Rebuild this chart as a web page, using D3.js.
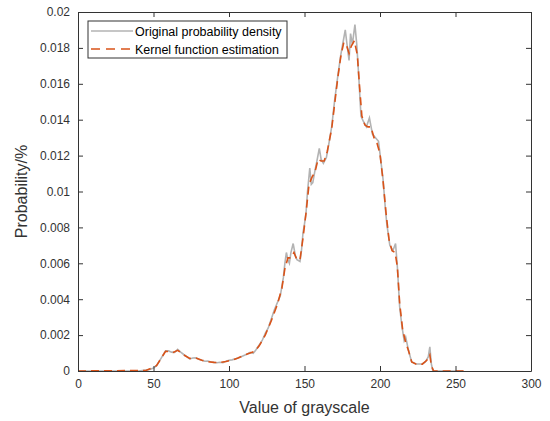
<!DOCTYPE html>
<html>
<head>
<meta charset="utf-8">
<script src="https://cdn.jsdelivr.net/npm/d3@7"></script>
<style>
  body { margin: 0; background: #fff; }
  text { font-family: "Liberation Sans", Arial, sans-serif; }
</style>
</head>
<body>
<svg id="chart" width="550" height="421"></svg>
<script>
// original histogram (grayscale value, probability)
var origX = [0, 40, 45, 48, 50, 52, 55, 58, 60, 62, 64, 66, 68, 70, 72, 74, 76, 78, 80, 82, 84, 86, 88, 90, 92, 94, 96, 98, 100, 102, 105, 108, 111, 114, 116, 118, 120, 122, 124, 126, 128, 130, 132, 134, 136, 137, 138, 139, 140, 141, 142.5, 144, 145, 147, 148, 149, 150, 151, 152, 153.5, 154.5, 155.5, 157, 158, 159.8, 161, 162.5, 164.5, 166, 168, 170, 172, 174, 175.5, 177, 178, 179.5, 180.5, 181.7, 183.4, 184.6, 186, 187.4, 189, 191, 193, 195, 197, 199, 200, 202, 203.5, 204.5, 206.5, 208.5, 210.3, 211.5, 213, 214.5, 216, 217, 218, 219, 221, 224, 228, 230, 232, 233, 234, 235, 255];
var origY = [0, 0, 0.00005, 0.0001, 0.00017, 0.0003, 0.0007, 0.00112, 0.00112, 0.00105, 0.00104, 0.0012, 0.00105, 0.00092, 0.0008, 0.00067, 0.00072, 0.00074, 0.00066, 0.0006, 0.00054, 0.00056, 0.0005, 0.00048, 0.00046, 0.00049, 0.00046, 0.00055, 0.0006, 0.00062, 0.0007, 0.0008, 0.0009, 0.00104, 0.00098, 0.0012, 0.00145, 0.0017, 0.0021, 0.0024, 0.0029, 0.0034, 0.0038, 0.0042, 0.0052, 0.006, 0.0066, 0.0062, 0.006, 0.0066, 0.0071, 0.0064, 0.0062, 0.0061, 0.0067, 0.0077, 0.0082, 0.0088, 0.01, 0.0113, 0.0104, 0.0105, 0.0112, 0.0116, 0.0124, 0.0118, 0.01157, 0.0119, 0.0126, 0.0136, 0.0151, 0.0164, 0.0176, 0.0183, 0.019, 0.0183, 0.0173, 0.0188, 0.0182, 0.0193, 0.0182, 0.0163, 0.0142, 0.0139, 0.0136, 0.0141, 0.0132, 0.013, 0.0128, 0.0121, 0.0107, 0.0091, 0.0082, 0.007, 0.0067, 0.0071, 0.0058, 0.0036, 0.0025, 0.0017, 0.0019, 0.0015, 0.0011, 0.0005, 0.00039, 0.00039, 0.0005, 0.0008, 0.00135, 0.0004, 0, 0];

// kernel estimate
var kdeX = [0, 45, 50, 52, 55, 58, 60, 63, 66, 68, 70, 74, 78, 82, 86, 90, 94, 98, 102, 106, 110, 114, 117, 120, 124, 128, 132, 135, 137, 139, 141, 143, 145, 147, 149, 151, 153, 155, 157, 159, 161, 163, 165, 168, 170, 172, 174, 176, 178, 179.5, 181, 183, 185, 186.5, 188, 190, 192, 194, 196, 198, 200, 202, 204, 206, 208, 210, 211.5, 213, 215, 217, 219, 221, 224, 228, 231, 233, 234, 235.5, 256];
var kdeY = [0, 0.00003, 0.0002, 0.0003, 0.0007, 0.0011, 0.00108, 0.00103, 0.00115, 0.00103, 0.0009, 0.0007, 0.00072, 0.0006, 0.00052, 0.00048, 0.00047, 0.00053, 0.0006, 0.00072, 0.00088, 0.001, 0.0011, 0.0014, 0.002, 0.0028, 0.0037, 0.0046, 0.0057, 0.0063, 0.0063, 0.0066, 0.0062, 0.0062, 0.0074, 0.0088, 0.0104, 0.0108, 0.0111, 0.0118, 0.0117, 0.0117, 0.0122, 0.0135, 0.0149, 0.0163, 0.0175, 0.0183, 0.0181, 0.0177, 0.0181, 0.0184, 0.0176, 0.0158, 0.0142, 0.0137, 0.0136, 0.0136, 0.013, 0.0127, 0.0121, 0.0106, 0.0088, 0.0073, 0.0067, 0.0066, 0.0058, 0.0038, 0.0023, 0.0016, 0.0011, 0.0005, 0.00038, 0.00038, 0.0006, 0.0009, 0.0003, 0, 0];

var xTicks = [0, 50, 100, 150, 200, 250, 300];
var yTicks = [0, 0.002, 0.004, 0.006, 0.008, 0.01, 0.012, 0.014, 0.016, 0.018, 0.02];
var seriesNames = ["Original probability density", "Kernel function estimation"];

var svg = d3.select("#chart");
var margin = {top: 12, right: 19, bottom: 50, left: 78},
    width = 550 - margin.left - margin.right,
    height = 421 - margin.top - margin.bottom;

var axisColor = "#333333",
    grayColor = "#b3b3b3",
    orange = "#D95319";

var g = svg.append("g")
  .attr("transform", "translate(" + margin.left + "," + margin.top + ")");

var x = d3.scaleLinear().domain([0, 300]).range([0, width]);
var y = d3.scaleLinear().domain([0, 0.02]).range([height, 0]);

var line = d3.line()
  .x(function(d) { return x(d[0]); })
  .y(function(d) { return y(d[1]); });

var origData = origX.map(function(v, i) { return [v, origY[i]]; });
var kdeData = kdeX.map(function(v, i) { return [v, kdeY[i]]; });

g.append("path")
  .attr("d", line(origData))
  .attr("fill", "none")
  .attr("stroke", grayColor)
  .attr("stroke-width", 1.6);

g.append("path")
  .attr("d", line(kdeData))
  .attr("fill", "none")
  .attr("stroke", orange)
  .attr("stroke-width", 1.6)
  .attr("stroke-dasharray", "8,5");

// axes, MATLAB style with inward ticks on all sides
function styleAxis(sel) {
  sel.selectAll("path").attr("stroke", axisColor);
  sel.selectAll("line").attr("stroke", axisColor);
  sel.selectAll("text").attr("fill", axisColor).attr("font-size", 12);
}

g.append("g")
  .attr("transform", "translate(0," + height + ")")
  .call(d3.axisBottom(x).tickValues(xTicks).tickSize(-5).tickSizeOuter(0).tickPadding(8))
  .call(styleAxis);

g.append("g")
  .call(d3.axisTop(x).tickValues(xTicks).tickSize(-5).tickSizeOuter(0).tickFormat(""))
  .call(styleAxis);

g.append("g")
  .call(d3.axisLeft(y).tickValues(yTicks).tickSize(-5).tickSizeOuter(0).tickPadding(8)
    .tickFormat(function(d) { return d === 0 ? "0" : d3.format("")(+d.toFixed(3)); }))
  .call(styleAxis);

g.append("g")
  .attr("transform", "translate(" + width + ",0)")
  .call(d3.axisRight(y).tickValues(yTicks).tickSize(-5).tickSizeOuter(0).tickFormat(""))
  .call(styleAxis);

// axis labels
svg.append("text")
  .attr("x", margin.left + width / 2)
  .attr("y", 413)
  .attr("text-anchor", "middle")
  .attr("font-size", 16)
  .attr("fill", axisColor)
  .text("Value of grayscale");

svg.append("text")
  .attr("transform", "translate(27," + (margin.top + height / 2) + ") rotate(-90)")
  .attr("text-anchor", "middle")
  .attr("font-size", 16)
  .attr("fill", axisColor)
  .text("Probability/%");

// legend
var legend = svg.append("g").attr("transform", "translate(88,21)");
legend.append("rect")
  .attr("width", 199).attr("height", 37)
  .attr("fill", "#fff")
  .attr("stroke", axisColor)
  .attr("stroke-width", 1);

var legendStyles = [
  {color: grayColor, dash: null},
  {color: orange, dash: "9,6"}
];

legendStyles.forEach(function(s, i) {
  var yy = 10 + i * 18;
  legend.append("line")
    .attr("x1", 3).attr("x2", 45)
    .attr("y1", yy).attr("y2", yy)
    .attr("stroke", s.color)
    .attr("stroke-width", 1.5)
    .attr("stroke-dasharray", s.dash);
  legend.append("text")
    .attr("x", 47).attr("y", yy + 4.5)
    .attr("font-size", 12.5)
    .attr("fill", "#000")
    .text(seriesNames[i]);
});
</script>
</body>
</html>
